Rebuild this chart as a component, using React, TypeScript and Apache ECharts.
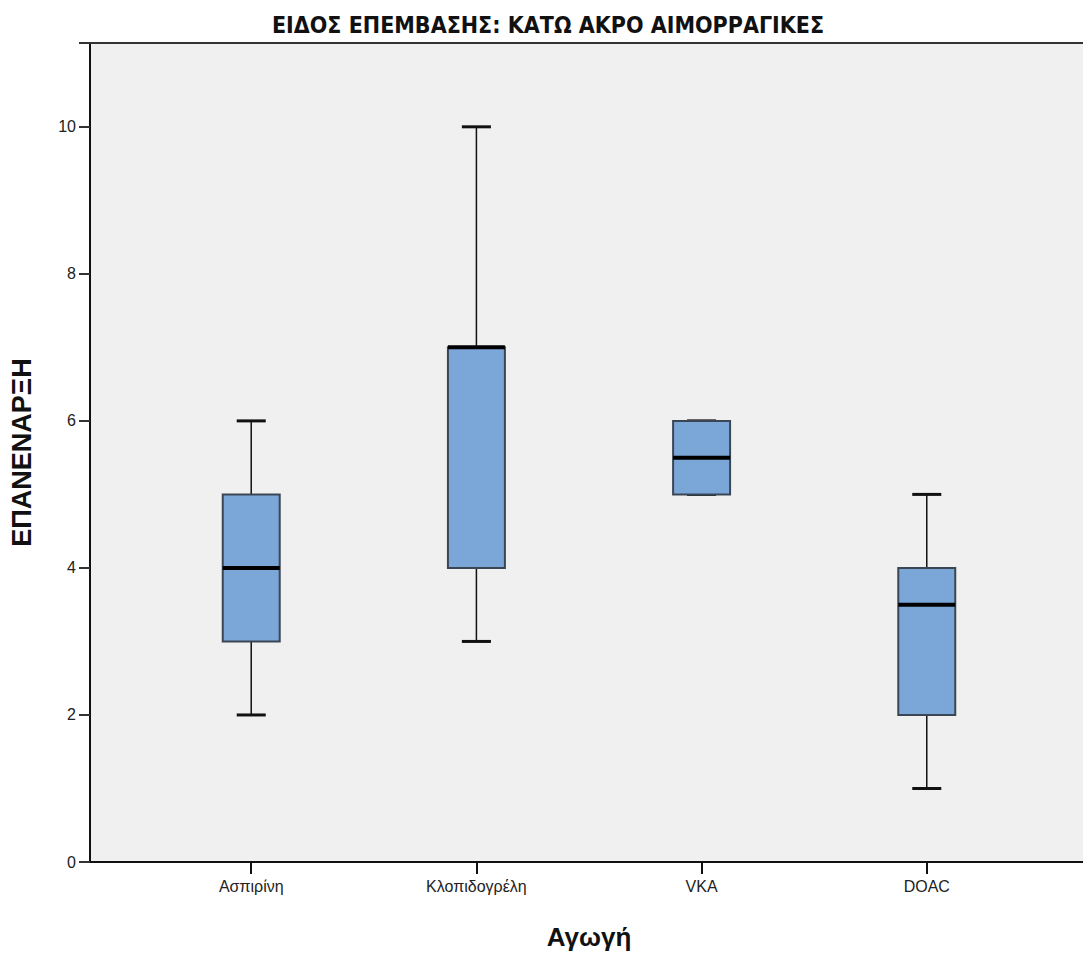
import React, { useEffect, useRef } from "react";
import * as echarts from "echarts";

const categories = ["Ασπιρίνη", "Κλοπιδογρέλη", "VKA", "DOAC"];
const whiskerLow = [2, 3, 5, 1];
const q1 = [3, 4, 5, 2];
const median = [4, 7, 5.5, 3.5];
const q3 = [5, 7, 6, 4];
const whiskerHigh = [6, 10, 6, 5];
const positions = [1, 2, 3, 4];
const yTicks = [0, 2, 4, 6, 8, 10];

const titleText = "ΕΙΔΟΣ ΕΠΕΜΒΑΣΗΣ: ΚΑΤΩ ΑΚΡΟ ΑΙΜΟΡΡΑΓΙΚΕΣ";
const xName = "Αγωγή";
const yName = "ΕΠΑΝΕΝΑΡΞΗ";

export default function App() {
  const ref = useRef<HTMLDivElement>(null);
  useEffect(() => {
    if (!ref.current) return;
    const chart = echarts.init(ref.current, null, { renderer: "svg" });
    const data = positions.map((p, i) => [p, whiskerLow[i], q1[i], median[i], q3[i], whiskerHigh[i]]);
    const option: any = {
      animation: false,
      backgroundColor: "#ffffff",
      title: {
        text: titleText,
        left: 543,
        top: 8,
        textAlign: "center",
        textStyle: {
          fontFamily: "'DejaVu Sans Condensed', 'DejaVu Sans', sans-serif",
          fontWeight: "bold",
          fontSize: 23,
          color: "#111111",
        },
      },
      grid: {
        left: 89,
        right: 12,
        top: 43,
        bottom: 91,
        show: true,
        backgroundColor: "#f0f0f0",
        borderWidth: 0,
      },
      xAxis: [
        {
          type: "value",
          min: 0.284,
          max: 4.716,
          name: xName,
          nameLocation: "middle",
          nameGap: 62,
          nameTextStyle: {
            fontFamily: "Liberation Sans",
            fontWeight: "bold",
            fontSize: 26,
            color: "#111111",
          },
          splitLine: { show: false },
          axisLine: { show: true, lineStyle: { color: "#111111", width: 2 } },
          axisTick: {
            show: true,
            customValues: positions,
            length: 12,
            lineStyle: { color: "#111111", width: 2 },
          },
          axisLabel: {
            customValues: positions,
            formatter: (v: number) => categories[Math.round(v) - 1] ?? "",
            fontFamily: "Liberation Sans",
            fontSize: 16,
            color: "#222222",
            margin: 16,
          },
        },
        {
          type: "value",
          position: "top",
          min: 0.284,
          max: 4.716,
          splitLine: { show: false },
          axisLine: { show: true, lineStyle: { color: "#333333", width: 2 } },
          axisTick: { show: false },
          axisLabel: { show: false },
        },
      ],
      yAxis: {
        type: "value",
        min: 0,
        max: 11.14,
        interval: 2,
        name: yName,
        nameLocation: "middle",
        nameGap: 55,
        nameRotate: 90,
        nameTextStyle: {
          fontFamily: "Liberation Sans",
          fontWeight: "bold",
          fontSize: 27,
          color: "#111111",
        },
        splitLine: { show: false },
        axisLine: { show: true, lineStyle: { color: "#111111", width: 2 } },
        axisTick: { show: true, inside: false, length: 11, lineStyle: { color: "#333333", width: 2 } },
        axisLabel: {
          fontFamily: "Liberation Sans",
          fontSize: 16,
          color: "#222222",
          margin: 14,
          formatter: (v: number) => (yTicks.includes(v) ? String(v) : ""),
        },
      },
      series: [
        {
          type: "custom",
          xAxisIndex: 0,
          data,
          encode: { x: 0, y: [1, 2, 3, 4, 5] },
          renderItem: (params: any, api: any) => {
            const x = api.value(0);
            const unit = api.size([1, 0])[0];
            const boxW = unit * 0.253;
            const capW = unit * 0.129;
            const pLow = api.coord([x, api.value(1)]);
            const pQ1 = api.coord([x, api.value(2)]);
            const pMed = api.coord([x, api.value(3)]);
            const pQ3 = api.coord([x, api.value(4)]);
            const pHigh = api.coord([x, api.value(5)]);
            const cx = pLow[0];
            return {
              type: "group",
              children: [
                {
                  type: "line",
                  shape: { x1: cx, y1: pQ3[1], x2: cx, y2: pHigh[1] },
                  style: { stroke: "#111111", lineWidth: 1.5 },
                },
                {
                  type: "line",
                  shape: { x1: cx, y1: pQ1[1], x2: cx, y2: pLow[1] },
                  style: { stroke: "#111111", lineWidth: 1.5 },
                },
                {
                  type: "line",
                  shape: { x1: cx - capW / 2, y1: pHigh[1], x2: cx + capW / 2, y2: pHigh[1] },
                  style: { stroke: "#111111", lineWidth: 3 },
                },
                {
                  type: "line",
                  shape: { x1: cx - capW / 2, y1: pLow[1], x2: cx + capW / 2, y2: pLow[1] },
                  style: { stroke: "#111111", lineWidth: 3 },
                },
                {
                  type: "rect",
                  shape: { x: cx - boxW / 2, y: pQ3[1], width: boxW, height: pQ1[1] - pQ3[1] },
                  style: { fill: "#7aa7d8", stroke: "#3a4654", lineWidth: 2 },
                },
                {
                  type: "line",
                  shape: { x1: cx - boxW / 2, y1: pMed[1], x2: cx + boxW / 2, y2: pMed[1] },
                  style: { stroke: "#000000", lineWidth: 4 },
                },
              ],
            };
          },
        },
      ],
    };
    chart.setOption(option);
    return () => chart.dispose();
  }, []);
  return (
    <div style={{ position: "fixed", left: 0, top: 0, width: 1083, height: 955, overflow: "hidden" }}>
      <div ref={ref} style={{ width: 1100, height: 955 }} />
    </div>
  );
}
